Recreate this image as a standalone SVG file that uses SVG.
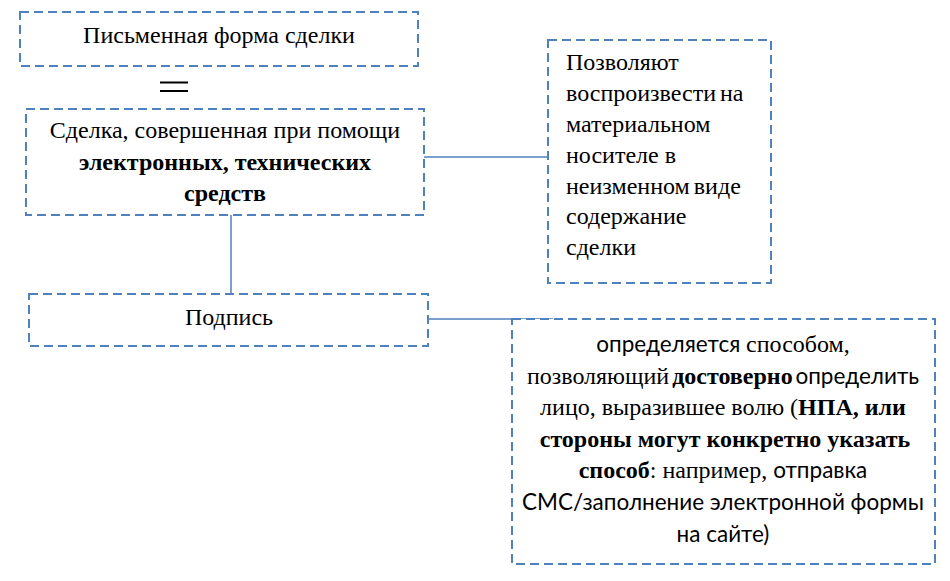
<svg xmlns="http://www.w3.org/2000/svg" width="950" height="581" viewBox="0 0 950 581">
<style>
.box{fill:#fff;stroke:#4F81BD;stroke-width:2;stroke-dasharray:9 5}
.con{stroke:#4F81BD;stroke-width:1.5;fill:none}
text{font-family:"Liberation Serif","Times New Roman",serif;font-size:24px;fill:#000}
.c{text-anchor:middle}
.b{font-weight:bold}
.s{font-family:Lato,"Liberation Sans",sans-serif;font-size:22.5px}
</style>
<rect width="950" height="581" fill="#fff"/>
<g id="connectors">
<line class="con" x1="424" y1="157" x2="548" y2="157"/>
<line class="con" x1="231" y1="215" x2="231" y2="294"/>
<line class="con" x1="428" y1="319" x2="553" y2="319"/>
</g>
<g id="n1">
<rect class="box" x="20" y="12" width="398" height="54"/>
<text class="c" x="219" y="43">Письменная форма сделки</text>
</g>
<g id="eq">
<line x1="160" y1="82.5" x2="188" y2="82.5" stroke="#000" stroke-width="2"/>
<line x1="160" y1="91" x2="188" y2="91" stroke="#000" stroke-width="2"/>
</g>
<g id="n2">
<rect class="box" x="26" y="109" width="398" height="106"/>
<text class="c" x="225" y="138">Сделка, совершенная при помощи</text>
<text class="c b" x="225" y="170">электронных, технических</text>
<text class="c b" x="225" y="201">средств</text>
</g>
<g id="n3">
<rect class="box" x="548" y="40" width="223" height="243"/>
<text x="566" y="70">Позволяют</text>
<text x="566" y="101" word-spacing="-2">воспроизвести на</text>
<text x="566" y="132">материальном</text>
<text x="566" y="163">носителе в</text>
<text x="566" y="194" word-spacing="-2">неизменном виде</text>
<text x="566" y="224">содержание</text>
<text x="566" y="255">сделки</text>
</g>
<g id="n4">
<rect class="box" x="29" y="294" width="399" height="52"/>
<text class="c" x="229" y="325">Подпись</text>
</g>
<g id="n5">
<rect class="box" x="512" y="319" width="423" height="245"/>
<text class="c" x="723" y="352"><tspan class="s">определяется </tspan>способом,</text>
<text class="c" x="723" y="384" word-spacing="-3">позволяющий <tspan class="b">достоверно</tspan><tspan class="s"> определить</tspan></text>
<text class="c" x="723" y="415">лицо, выразившее волю (<tspan class="b">НПА, или</tspan></text>
<text class="c b" x="725" y="447" font-size="24.5">стороны могут конкретно указать</text>
<text class="c" x="723" y="478"><tspan class="b">способ</tspan>: например, <tspan class="s">отправка</tspan></text>
<text class="c s" x="723" y="510">СМС/заполнение электронной формы</text>
<text class="c s" x="723" y="542">на сайте)</text>
</g>
</svg>
